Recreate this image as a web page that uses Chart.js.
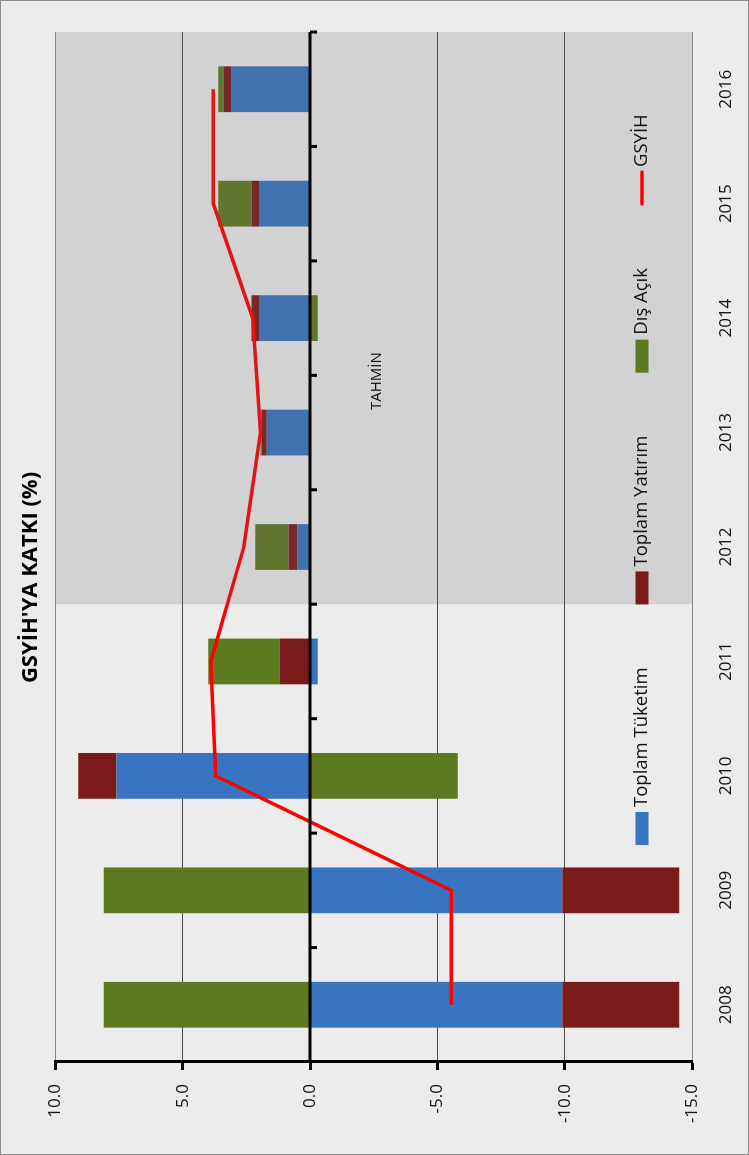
<!DOCTYPE html>
<html>
<head>
<meta charset="utf-8">
<script src="https://cdn.jsdelivr.net/npm/chart.js@4/dist/chart.umd.min.js"></script>
<style>
  html, body { margin: 0; padding: 0; background: #ececec; }
  #frame { position: relative; width: 749px; height: 1155px; box-sizing: border-box;
           border: 1px solid #8c8c8c; background: #ececec; overflow: hidden; }
  /* chart is drawn landscape and turned a quarter turn counter-clockwise */
  #turn { position: absolute; left: -1px; top: -1px; width: 1155px; height: 749px;
          transform-origin: 0 0; transform: translate(0, 1155px) rotate(-90deg); }
</style>
</head>
<body>
<div id="frame">
  <div id="turn"><canvas id="myChart" width="1155" height="749"></canvas></div>
</div>
<script>
// DATA
const years = ['2008', '2009', '2010', '2011', '2012', '2013', '2014', '2015', '2016'];
const tuketim = [-9.9, -9.9, 7.6, -0.3, 0.5, 1.7, 2.0, 2.0, 3.1];
const yatirim = [-4.6, -4.6, 1.5, 1.2, 0.35, 0.2, 0.3, 0.3, 0.3];
const disAcik = [8.1, 8.1, -5.8, 2.8, 1.3, 0.05, -0.3, 1.3, 0.2];
const gsyih = [-5.55, -5.55, 3.7, 3.9, 2.6, 1.95, 2.25, 3.8, 3.8];
const valueTicks = [10, 5, 0, -5, -10, -15];
const firstForecast = 4; // 2012 onwards = TAHMİN

Chart.defaults.font.family = "'Open Sans', sans-serif";
Chart.defaults.color = '#111';

// forecast shading, zero axis with its ticks, TAHMİN label
const tahminPlugin = {
  id: 'tahmin',
  afterDatasetsDraw(chart) {
    const { ctx, chartArea: a, scales: { x, y } } = chart;
    const start = x.getPixelForValue(firstForecast - 0.5);
    ctx.save();
    ctx.fillStyle = 'rgba(105,105,105,0.2)';
    ctx.fillRect(start, a.top, a.right - start, a.bottom - a.top);

    const y0 = y.getPixelForValue(0);
    ctx.strokeStyle = '#000';
    ctx.lineWidth = 3;
    ctx.beginPath();
    ctx.moveTo(a.left, y0);
    ctx.lineTo(a.right, y0);
    for (let i = 0; i < years.length; i++) {
      const px = x.getPixelForValue(i + 0.5);
      ctx.moveTo(px, y0);
      ctx.lineTo(px, y0 + 7);
    }
    ctx.stroke();

    ctx.fillStyle = '#111';
    ctx.font = "15px 'Open Sans'";
    ctx.textAlign = 'center';
    ctx.textBaseline = 'middle';
    ctx.fillText('TAHMİN', x.getPixelForValue(5.45), y.getPixelForValue(-2.6));
    ctx.restore();
  }
};

// legend sitting inside the plot, near the bottom
const legendPlugin = {
  id: 'innerLegend',
  afterDraw(chart) {
    const { ctx, chartArea: a } = chart;
    const cy = a.bottom - 50;
    let cx = a.left + 217;
    ctx.save();
    ctx.font = "18.5px 'Open Sans'";
    ctx.textBaseline = 'middle';
    ctx.textAlign = 'left';
    chart.data.datasets.forEach(ds => {
      if (ds.type === 'line') {
        ctx.strokeStyle = ds.borderColor;
        ctx.lineWidth = 3.5;
        ctx.lineCap = 'round';
        ctx.beginPath();
        ctx.moveTo(cx + 1, cy);
        ctx.lineTo(cx + 33, cy);
        ctx.stroke();
      } else {
        ctx.fillStyle = ds.backgroundColor;
        ctx.fillRect(cx, cy - 6.5, 33, 13);
      }
      cx += 38;
      ctx.fillStyle = '#111';
      ctx.fillText(ds.label, cx, cy);
      cx += ctx.measureText(ds.label).width + 63;
    });
    ctx.restore();
  }
};

const ctx = document.getElementById('myChart').getContext('2d');
const myChart = new Chart(ctx, {
  type: 'bar',
  data: {
    labels: years,
    datasets: [
      { label: 'Toplam Tüketim', data: tuketim, backgroundColor: '#3875c1', stack: 'katki', order: 2, yAxisID: 'y' },
      { label: 'Toplam Yatırım', data: yatirim, backgroundColor: '#7b1a1a', stack: 'katki', order: 2, yAxisID: 'y' },
      { label: 'Dış Açık', data: disAcik, backgroundColor: '#5e7a21', stack: 'katki', order: 2, yAxisID: 'y' },
      { type: 'line', label: 'GSYİH', data: gsyih, borderColor: '#ff0000', backgroundColor: '#ff0000',
        borderWidth: 3.5, pointRadius: 0, tension: 0, stack: 'gsyih', order: 1, yAxisID: 'y' }
    ]
  },
  options: {
    responsive: false,
    animation: false,
    categoryPercentage: 0.8,
    barPercentage: 0.5,
    layout: { padding: 0 },
    plugins: {
      legend: { display: false },
      tooltip: { enabled: false },
      title: {
        display: true,
        text: "GSYİH'YA KATKI (%)",
        color: '#000',
        font: { size: 22, weight: 'bold' },
        padding: { top: 18, bottom: 11 }
      }
    },
    scales: {
      x: {
        stacked: true,
        grid: { display: false },
        border: { display: false },
        ticks: { padding: 16, font: { size: 17 }, maxRotation: 0 },
        afterFit(scale) { scale.height = 57; }
      },
      y: {
        stacked: true,
        min: -15,
        max: 10,
        afterBuildTicks(scale) { scale.ticks = valueTicks.map(v => ({ value: v })); },
        ticks: { padding: 14, font: { size: 17 }, callback: v => v.toFixed(1) },
        grid: {
          color: c => c.tick.value === 0 ? 'rgba(0,0,0,0)' :
            (c.tick.value === 10 || c.tick.value === -15 ? '#888' : '#4a4a4a'),
          lineWidth: 1,
          tickColor: '#000',
          tickWidth: 3,
          tickLength: 8
        },
        border: { display: true, color: '#000', width: 3 },
        afterFit(scale) { scale.width = 93; }
      },
      // empty strip on the far side so the title stays centred on the page
      yPad: {
        position: 'right',
        grid: { display: false },
        border: { display: false },
        ticks: { display: false },
        afterFit(scale) { scale.width = 32; }
      }
    }
  },
  plugins: [tahminPlugin, legendPlugin]
});
</script>
</body>
</html>
